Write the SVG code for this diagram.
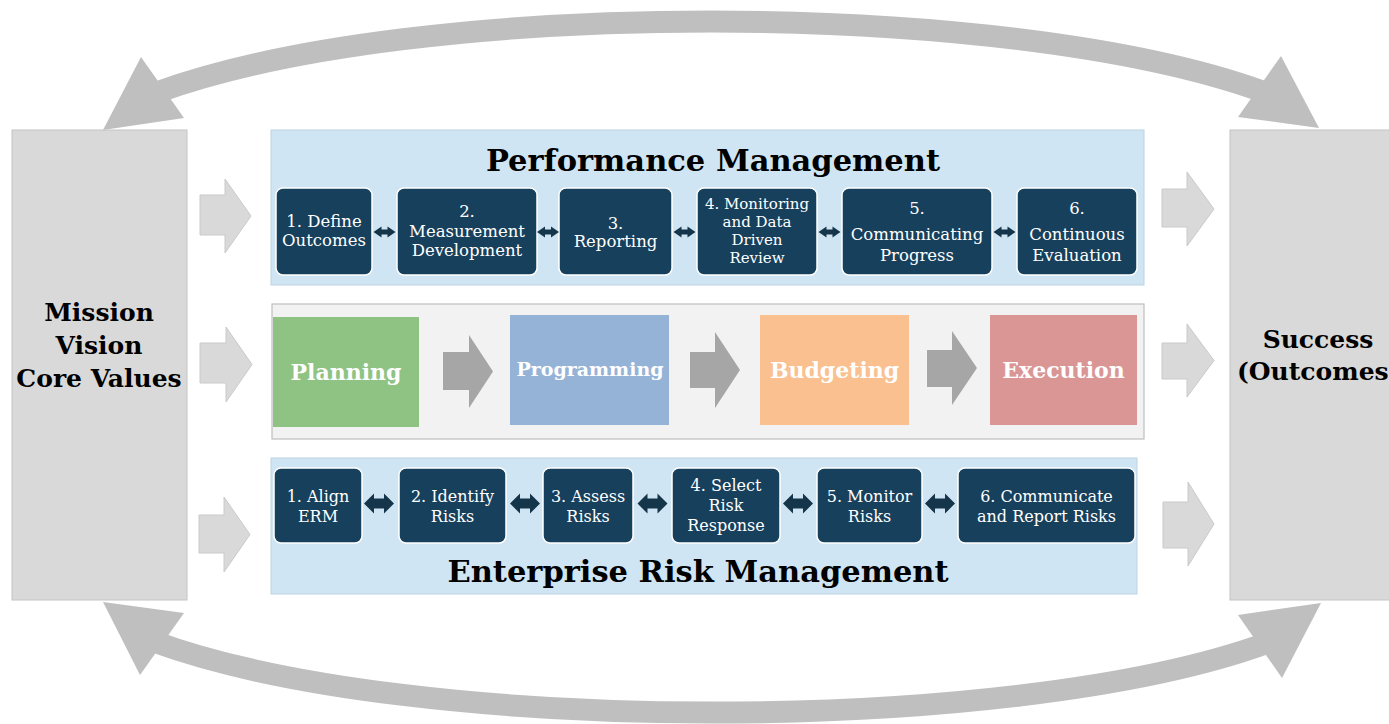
<svg xmlns="http://www.w3.org/2000/svg" width="1389" height="724" viewBox="0 0 1389 724">
<style>
.bg{fill:#ffffff}
.side{fill:#d9d9d9;stroke:#c4c4c4;stroke-width:1}
.sidetxt{font-family:"DejaVu Serif","Liberation Serif",serif;font-weight:bold;font-size:25px;fill:#000;text-anchor:middle}
.panelb{fill:#d0e5f3;stroke:#bcd3e3;stroke-width:1}
.panelg{fill:#f2f2f2;stroke:#bfbfbf;stroke-width:1.2}
.title{font-family:"DejaVu Serif","Liberation Serif",serif;font-weight:bold;font-size:30.5px;fill:#000;text-anchor:middle}
.step{fill:#17405c;stroke:#ffffff;stroke-width:1.5}
.st{font-family:"DejaVu Serif","Liberation Serif",serif;font-size:16.5px;fill:#ffffff;text-anchor:middle}
.st4{font-family:"DejaVu Serif","Liberation Serif",serif;font-size:15px;fill:#ffffff;text-anchor:middle}
.ste{font-family:"DejaVu Serif","Liberation Serif",serif;font-size:16px;fill:#ffffff;text-anchor:middle}
.ppbe{font-family:"DejaVu Serif","Liberation Serif",serif;font-weight:bold;font-size:22px;fill:#ffffff;text-anchor:middle}
.bigarrow{fill:#d9d9d9;stroke:#cacaca;stroke-width:1}
.midarrow{fill:#a6a6a6}
.dbl{fill:#15354a}
.arc{fill:none;stroke:#bfbfbf;stroke-width:22}
.arch{fill:#bfbfbf}
</style>
<defs>
<path id="dblS" d="M-11,0 L-3,-5.5 L-3,-2.5 L3,-2.5 L3,-5.5 L11,0 L3,5.5 L3,2.5 L-3,2.5 L-3,5.5 Z"/>
<path id="dblL" d="M-15,0 L-5,-10 L-5,-5 L5,-5 L5,-10 L15,0 L5,10 L5,5 L-5,5 L-5,10 Z"/>
</defs>
<rect class="bg" x="0" y="0" width="1389" height="724"/>

<g id="connectors">
  <!-- top cycle arc -->
  <path class="arc" d="M158,92 C416.5,-2 1005.5,-2 1264,92"/>
  <polygon class="arch" points="103,130 141,57 184,118"/>
  <polygon class="arch" points="1319,128 1281,56 1238,117"/>
  <!-- bottom cycle arc -->
  <path class="arc" d="M155,642 C411.6,735.4 1010.4,736.4 1267,643"/>
  <polygon class="arch" points="103,602 184,613 140,675"/>
  <polygon class="arch" points="1321,603 1238,615 1282,678"/>
  <!-- left input arrows -->
  <path class="bigarrow" d="M200,195 L225,195 L225,179 L251,216 L225,253 L225,235 L200,235 Z"/>
  <path class="bigarrow" d="M200,343 L226,343 L226,327 L252,364.5 L226,402 L226,383 L200,383 Z"/>
  <path class="bigarrow" d="M199,515 L224,515 L224,497 L250,534.5 L224,572 L224,553 L199,553 Z"/>
  <!-- right output arrows -->
  <path class="bigarrow" d="M1162,189 L1187,189 L1187,172 L1214,209 L1187,246 L1187,227 L1162,227 Z"/>
  <path class="bigarrow" d="M1162,343 L1187,343 L1187,324 L1214,360.5 L1187,397 L1187,379 L1162,379 Z"/>
  <path class="bigarrow" d="M1163,502 L1188,502 L1188,482 L1214,524 L1188,566 L1188,548 L1163,548 Z"/>
</g>

<g id="mission">
  <rect class="side" x="12" y="130" width="175" height="470"/>
  <text class="sidetxt" x="99" y="321">Mission</text>
  <text class="sidetxt" x="99" y="354">Vision</text>
  <text class="sidetxt" x="99" y="387">Core Values</text>
</g>

<g id="success">
  <rect class="side" x="1230" y="130" width="180" height="470"/>
  <text class="sidetxt" x="1318" y="348">Success</text>
  <text class="sidetxt" x="1237" y="380" style="text-anchor:start">(Outcomes</text>
</g>

<g id="performance-management">
  <rect class="panelb" x="271" y="130" width="873" height="155"/>
  <text class="title" x="713" y="171">Performance Management</text>
  <g id="pm1"><rect class="step" x="276" y="188" width="96" height="87" rx="7"/>
    <text class="st" x="324" y="227">1. Define</text><text class="st" x="324" y="246">Outcomes</text></g>
  <g id="pm2"><rect class="step" x="397" y="188" width="140" height="87" rx="7"/>
    <text class="st" x="467" y="217">2.</text><text class="st" x="467" y="237">Measurement</text><text class="st" x="467" y="256">Development</text></g>
  <g id="pm3"><rect class="step" x="559" y="188" width="113" height="87" rx="7"/>
    <text class="st" x="615.5" y="229">3.</text><text class="st" x="615.5" y="247">Reporting</text></g>
  <g id="pm4"><rect class="step" x="697" y="188" width="120" height="87" rx="7"/>
    <text class="st4" x="757" y="209">4. Monitoring</text><text class="st4" x="757" y="227">and Data</text><text class="st4" x="757" y="245">Driven</text><text class="st4" x="757" y="263">Review</text></g>
  <g id="pm5"><rect class="step" x="842" y="188" width="150" height="87" rx="7"/>
    <text class="st" x="917" y="214">5.</text><text class="st" x="917" y="240">Communicating</text><text class="st" x="917" y="261">Progress</text></g>
  <g id="pm6"><rect class="step" x="1017" y="188" width="120" height="87" rx="7"/>
    <text class="st" x="1077" y="214">6.</text><text class="st" x="1077" y="240">Continuous</text><text class="st" x="1077" y="261">Evaluation</text></g>
  <g id="pm-links">
    <use href="#dblS" class="dbl" x="384.5" y="232"/>
    <use href="#dblS" class="dbl" x="548" y="232"/>
    <use href="#dblS" class="dbl" x="684.5" y="232"/>
    <use href="#dblS" class="dbl" x="829.5" y="232"/>
    <use href="#dblS" class="dbl" x="1004.5" y="232"/>
  </g>
</g>

<g id="ppbe">
  <rect class="panelg" x="272" y="304" width="872" height="135"/>
  <g id="planning"><rect x="273" y="317" width="146" height="110" fill="#8fc383"/>
    <text class="ppbe" x="346" y="380">Planning</text></g>
  <g id="programming"><rect x="510" y="315" width="159" height="110" fill="#95b3d7"/>
    <text class="ppbe" x="590" y="376" style="font-size:19px">Programming</text></g>
  <g id="budgeting"><rect x="760" y="315" width="149" height="110" fill="#fac090"/>
    <text class="ppbe" x="834.5" y="378">Budgeting</text></g>
  <g id="execution"><rect x="990" y="315" width="147" height="110" fill="#d99694"/>
    <text class="ppbe" x="1063.5" y="378">Execution</text></g>
  <g id="ppbe-links">
    <path class="midarrow" d="M443,352 L469,352 L469,335 L493,371.5 L469,408 L469,390 L443,390 Z"/>
    <path class="midarrow" d="M690,352 L715,352 L715,332 L740,370 L715,408 L715,388 L690,388 Z"/>
    <path class="midarrow" d="M927,350 L952,350 L952,331 L977,368 L952,405 L952,387 L927,387 Z"/>
  </g>
</g>

<g id="enterprise-risk-management">
  <rect class="panelb" x="271" y="458" width="866" height="136"/>
  <text class="title" x="698" y="582">Enterprise Risk Management</text>
  <g id="erm1"><rect class="step" x="274" y="468" width="88" height="75" rx="7"/>
    <text class="ste" x="318" y="502">1. Align</text><text class="ste" x="318" y="522">ERM</text></g>
  <g id="erm2"><rect class="step" x="399" y="468" width="107" height="75" rx="7"/>
    <text class="ste" x="452.5" y="502">2. Identify</text><text class="ste" x="452.5" y="522">Risks</text></g>
  <g id="erm3"><rect class="step" x="543" y="468" width="90" height="75" rx="7"/>
    <text class="ste" x="588" y="502">3. Assess</text><text class="ste" x="588" y="522">Risks</text></g>
  <g id="erm4"><rect class="step" x="672" y="468" width="108" height="75" rx="7"/>
    <text class="ste" x="726" y="491">4. Select</text><text class="ste" x="726" y="511">Risk</text><text class="ste" x="726" y="531">Response</text></g>
  <g id="erm5"><rect class="step" x="817" y="468" width="105" height="75" rx="7"/>
    <text class="ste" x="869.5" y="502">5. Monitor</text><text class="ste" x="869.5" y="522">Risks</text></g>
  <g id="erm6"><rect class="step" x="958" y="468" width="177" height="75" rx="7"/>
    <text class="ste" x="1046.5" y="502">6. Communicate</text><text class="ste" x="1046.5" y="522">and Report Risks</text></g>
  <g id="erm-links">
    <use href="#dblL" class="dbl" x="379" y="503.5"/>
    <use href="#dblL" class="dbl" x="525" y="503.5"/>
    <use href="#dblL" class="dbl" x="652.5" y="503.5"/>
    <use href="#dblL" class="dbl" x="798" y="503.5"/>
    <use href="#dblL" class="dbl" x="940" y="503.5"/>
  </g>
</g>
</svg>
